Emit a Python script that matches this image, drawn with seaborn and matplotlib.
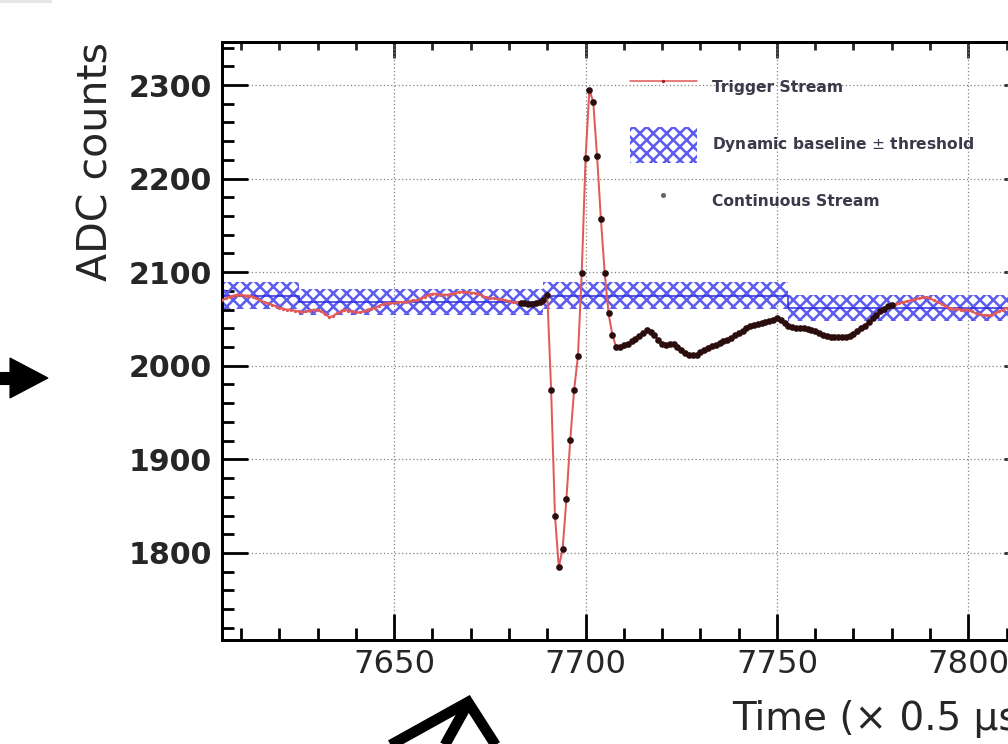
import numpy as np
import pandas as pd
import matplotlib
matplotlib.use('Agg')
import matplotlib.pyplot as plt
import seaborn as sns
from matplotlib.lines import Line2D
from matplotlib.patches import Patch, Polygon, Rectangle
from matplotlib.ticker import MultipleLocator

# samples (x 0.5 us) and ADC counts
time = np.arange(7605, 7811)
adc = [2070, 2072, 2074, 2075, 2076, 2076, 2075, 2075, 2074, 2072,
       2070, 2068, 2067, 2065, 2064, 2062, 2061, 2060, 2060, 2059,
       2058, 2057, 2058, 2059, 2060, 2060, 2058, 2055, 2052, 2053,
       2056, 2058, 2060, 2059, 2058, 2057, 2057, 2058, 2060, 2061,
       2062, 2064, 2066, 2067, 2067, 2067, 2068, 2068, 2068, 2069,
       2070, 2070, 2072, 2074, 2076, 2077, 2077, 2076, 2076, 2076,
       2077, 2078, 2079, 2079, 2079, 2078, 2078, 2077, 2075, 2073,
       2072, 2072, 2071, 2071, 2070, 2069, 2068, 2068, 2067, 2067,
       2066, 2066, 2067, 2068, 2070, 2076, 1974, 1840, 1785, 1804,
       1858, 1921, 1974, 2010, 2099, 2222, 2295, 2282, 2224, 2157,
       2099, 2056, 2033, 2020, 2020, 2022, 2023, 2026, 2029, 2032,
       2035, 2038, 2036, 2033, 2028, 2023, 2022, 2023, 2023, 2020,
       2017, 2014, 2012, 2011, 2012, 2015, 2017, 2019, 2021, 2022,
       2024, 2026, 2028, 2030, 2033, 2035, 2037, 2040, 2042, 2044,
       2045, 2046, 2047, 2048, 2049, 2051, 2049, 2046, 2042, 2041,
       2040, 2040, 2040, 2039, 2038, 2037, 2035, 2033, 2032, 2031,
       2031, 2031, 2031, 2031, 2032, 2034, 2037, 2040, 2043, 2047,
       2051, 2054, 2058, 2061, 2064, 2065, 2066, 2067, 2068, 2069,
       2070, 2071, 2072, 2073, 2073, 2072, 2070, 2068, 2066, 2064,
       2062, 2061, 2061, 2060, 2060, 2060, 2058, 2056, 2055, 2054,
       2054, 2054, 2056, 2058, 2060, 2062]

# part of the trace also kept by the continuous stream
cont_start, cont_end = 7683, 7780

# dynamic baseline, one value per 64-sample window
win_edges = [7605, 7625, 7689, 7753, 7813.5]
win_baseline = [2075, 2068, 2075, 2062]
threshold = 14

legend_labels = ['Trigger Stream', 'Dynamic baseline $\\pm$ threshold', 'Continuous Stream']

df = pd.DataFrame({'time': time, 'adc': adc})
cont = df[(df['time'] >= cont_start) & (df['time'] <= cont_end)]

red = '#e05a5a'
band_blue = '#5c5cf0'
line_blue = '#2f2fe0'

sns.set_style('ticks')
plt.rcParams['hatch.linewidth'] = 2.3

fig = plt.figure(figsize=(12.6, 9.3), dpi=80)
ax = fig.add_axes([0.2202, 0.1398, 0.7917, 0.8038])

# baseline +- threshold band
lower = [b - threshold for b in win_baseline]
upper = [b + threshold for b in win_baseline]
ax.fill_between(win_edges, lower + lower[-1:], upper + upper[-1:], step='post',
                facecolor='none', edgecolor=band_blue, hatch='xx', linewidth=0, zorder=2)
ax.step(win_edges, win_baseline + win_baseline[-1:], where='post', color=line_blue, lw=1.4, zorder=2)

# trigger stream and continuous stream
sns.lineplot(data=df, x='time', y='adc', color=red, lw=1.8, marker='o', markersize=3,
             markeredgewidth=0, ax=ax, zorder=3, legend=False)
sns.scatterplot(data=cont, x='time', y='adc', color='#2b0d0d', s=36, linewidth=0,
                ax=ax, zorder=4, legend=False)

ax.set_xlim(7605, 7813.5)
ax.set_ylim(1707, 2346)

ax.xaxis.set_major_locator(MultipleLocator(50))
ax.xaxis.set_minor_locator(MultipleLocator(10))
ax.yaxis.set_major_locator(MultipleLocator(100))
ax.yaxis.set_minor_locator(MultipleLocator(20))
ax.tick_params(which='both', direction='in', top=False, right=False, width=2.5, color='black')
ax.tick_params(which='major', length=23)
ax.tick_params(which='minor', length=11)
ax.tick_params(axis='x', labelsize=29, pad=8)
ax.tick_params(axis='y', labelsize=27, pad=9)
for lab in ax.get_yticklabels():
    lab.set_fontweight('bold')

# shorter ticks along top and right, ROOT style
secx = ax.secondary_xaxis('top')
secx.xaxis.set_major_locator(MultipleLocator(50))
secx.xaxis.set_minor_locator(MultipleLocator(10))
secx.tick_params(which='both', direction='in', labeltop=False, width=2.5)
secx.tick_params(which='major', length=14)
secx.tick_params(which='minor', length=7)
secy = ax.secondary_yaxis('right')
secy.yaxis.set_major_locator(MultipleLocator(100))
secy.yaxis.set_minor_locator(MultipleLocator(20))
secy.tick_params(which='both', direction='in', labelright=False, width=2.5)
secy.tick_params(which='major', length=14)
secy.tick_params(which='minor', length=7)

for s in list(ax.spines.values()) + [secx.spines['top'], secy.spines['right']]:
    s.set_linewidth(2.7)
    s.set_color('black')

ax.set_axisbelow(True)
ax.grid(True, which='major', color='#7f7f7f', linestyle=(0, (1, 2)), linewidth=1.1)

ax.set_xlabel('Time (× 0.5 μs)', fontsize=35, loc='right')
ax.xaxis.set_label_coords(1.018, -0.100)
ax.set_ylabel('ADC counts', fontsize=37, loc='top')
ax.yaxis.set_label_coords(-0.1316, 1.0)

handles = [Line2D([0], [0], color=red, lw=1.4, marker='o', ms=3, mfc='#a02020', mec='none'),
           Patch(facecolor='none', edgecolor=band_blue, hatch='xx', linewidth=0),
           Line2D([0], [0], ls='none', marker='o', ms=3.5, color='#666666')]
ax.legend(handles, legend_labels, loc='upper left', bbox_to_anchor=(0.511, 0.954),
          frameon=False, borderpad=0, borderaxespad=0, handlelength=4.3, handleheight=3.2,
          labelspacing=1.35, handletextpad=0.96, prop={'size': 14, 'weight': 'bold'},
          labelcolor='#3a3a4a')


# arrows drawn around the plot in the source figure
def px(x, y):
    return (x / 1008, 1 - y / 744)


fig.add_artist(Rectangle(px(0, 3), 52 / 1008, 3 / 744, transform=fig.transFigure,
                         color='#e6e6e6', lw=0))
fig.add_artist(Polygon([px(0, 372), px(12, 372), px(12, 384), px(0, 384)],
                       closed=True, transform=fig.transFigure, color='black'))
fig.add_artist(Polygon([px(10, 358), px(48, 378), px(10, 398)],
                       closed=True, transform=fig.transFigure, color='black'))
p1, p2, p3 = px(378, 752), px(468, 702), px(500, 752)
fig.add_artist(Line2D([p1[0], p2[0], p3[0]], [p1[1], p2[1], p3[1]], transform=fig.transFigure,
                      color='black', lw=9.5, solid_capstyle='butt', solid_joinstyle='miter'))
q1, q2 = px(466, 707), px(441, 752)
fig.add_artist(Line2D([q1[0], q2[0]], [q1[1], q2[1]], transform=fig.transFigure,
                      color='black', lw=9.5, solid_capstyle='butt'))

fig.savefig('out.png', dpi=80)
